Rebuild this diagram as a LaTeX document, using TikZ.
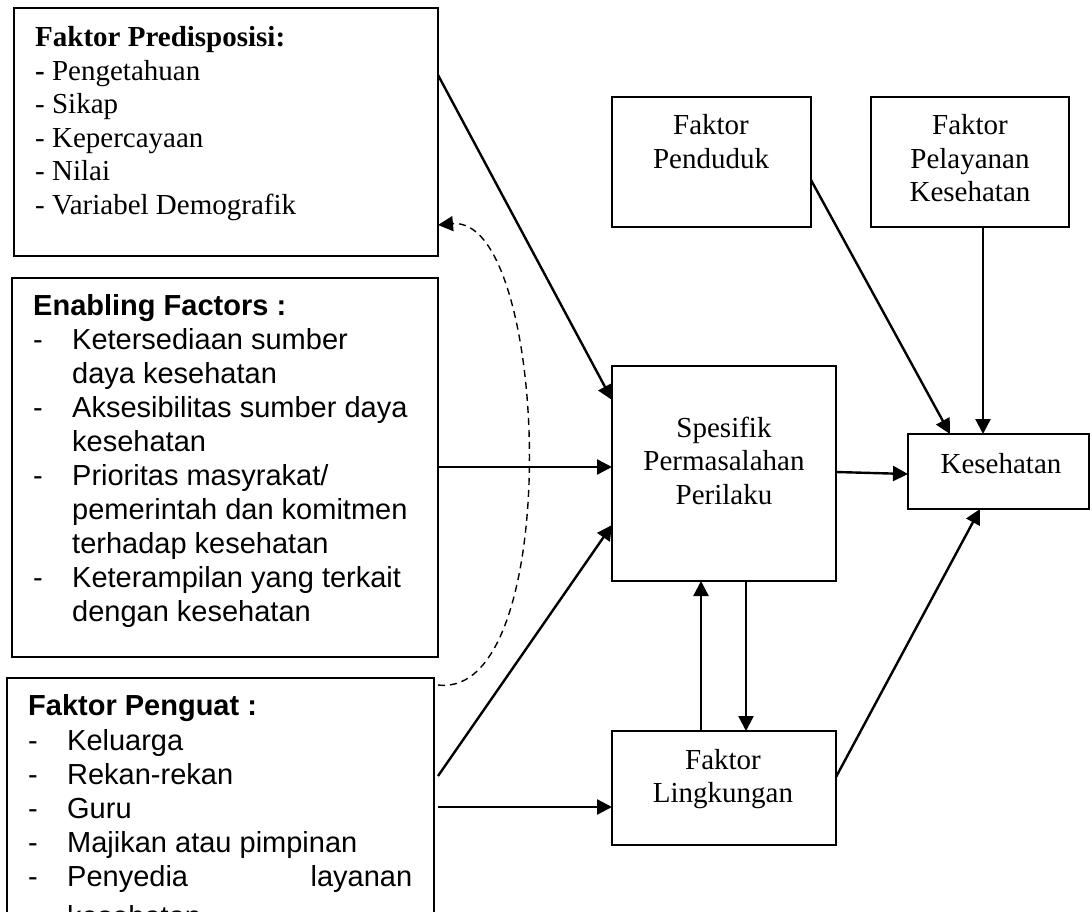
\documentclass[tikz,border=0pt]{standalone}
\usepackage{fontspec}
\setmainfont{Liberation Serif}
\newfontfamily\arialf{Liberation Sans}
\usetikzlibrary{arrows.meta}
\begin{document}
\begin{tikzpicture}[x=1pt,y=-1pt,
  box/.style={draw, line width=1.8pt, inner sep=0pt, outer sep=0pt},
  tms/.style={inner sep=0pt, font=\fontsize{29}{33.5}\selectfont},
  ari/.style={inner sep=0pt, font=\arialf\fontsize{29}{34}\selectfont},
  arr/.style={line width=2.4pt, -{Triangle[length=15pt,width=15pt]}},
  dsh/.style={line width=1.4pt, dash pattern=on 7pt off 5pt, -{Triangle[length=15pt,width=15pt]}}]
\useasboundingbox (0,0) rectangle (1092,912);
\clip (0,0) rectangle (1092,912);
% boxes
\node[box, minimum width=424pt, minimum height=248pt] (A) at (226,132) {};
\node[box, minimum width=426pt, minimum height=379pt] (B) at (225,467.5) {};
\node[box, minimum width=427pt, minimum height=272pt] (C) at (220.5,814) {};
\node[box, minimum width=199pt, minimum height=130pt] (P) at (711.5,162) {};
\node[box, minimum width=198pt, minimum height=130pt] (L) at (970,162) {};
\node[box, minimum width=224pt, minimum height=215pt] (S) at (724,473.5) {};
\node[box, minimum width=181pt, minimum height=75pt] (K) at (998.5,471.5) {};
\node[box, minimum width=224pt, minimum height=114pt] (G) at (724,788) {};
% texts
\node[tms, anchor=base west] (tA) at (35,47) {\begin{tabular}[t]{@{}l@{}}
\textbf{Faktor Predisposisi:}\\
\textbf{-} Pengetahuan\\
- Sikap\\
- Kepercayaan\\
- Nilai\\
- Variabel Demografik
\end{tabular}};
\node[ari, anchor=base west] (tB) at (33,315) {\begin{tabular}[t]{@{}p{39pt}@{}l@{}}
\multicolumn{2}{@{}l@{}}{\textbf{Enabling Factors :}}\\
- & Ketersediaan sumber\\
  & daya kesehatan\\
- & Aksesibilitas sumber daya\\
  & kesehatan\\
- & Prioritas masyrakat/\\
  & pemerintah dan komitmen\\
  & terhadap kesehatan\\
- & Keterampilan yang terkait\\
  & dengan kesehatan
\end{tabular}};
\node[ari, anchor=base west] (tC) at (28,715) {\begin{tabular}[t]{@{}p{39pt}@{}l@{}}
\multicolumn{2}{@{}l@{}}{\textbf{Faktor Penguat :}}\\[1pt]
- & Keluarga\\
- & Rekan-rekan\\
- & Guru\\
- & Majikan atau pimpinan\\
- & \makebox[345pt][s]{Penyedia\hfill layanan}\\[6pt]
  & kesehatan
\end{tabular}};
\node[tms, anchor=base] (tP) at (711,135) {\begin{tabular}[t]{@{}c@{}}Faktor\\Penduduk\end{tabular}};
\node[tms, anchor=base] (tL) at (970,135) {\begin{tabular}[t]{@{}c@{}}Faktor\\Pelayanan\\Kesehatan\end{tabular}};
\node[tms, anchor=base] (tS) at (724,437) {\begin{tabular}[t]{@{}c@{}}Spesifik\\Permasalahan\\Perilaku\end{tabular}};
\node[tms, anchor=base] (tK) at (1001,473) {Kesehatan};
\node[tms, anchor=base] (tG) at (723,769) {\begin{tabular}[t]{@{}c@{}}Faktor\\Lingkungan\end{tabular}};
% connectors
\draw[arr] (A.east |- 0,75) -- (S.west |- 0,400);
\draw[dsh] ([xshift=4pt]C.east |- 0,685) .. controls (565,700) and (550,215) .. (A.east |- 0,225);
\draw[arr] (B.east |- 0,467) -- (S.west |- 0,467);
\draw[arr] ([xshift=4pt]C.east |- 0,776) -- (S.west |- 0,525);
\draw[arr] ([xshift=4pt]C.east |- 0,807) -- (G.west |- 0,807);
\draw[arr] (S.east |- 0,472) -- (K.west |- 0,474);
\draw[arr] (P.east |- 0,180) -- (K.north -| 950,0);
\draw[arr] (L.south -| 983,0) -- (K.north -| 983,0);
\draw[arr] (G.north -| 701,0) -- (S.south -| 701,0);
\draw[arr] (S.south -| 746,0) -- (G.north -| 746,0);
\draw[arr] (G.east |- 0,777) -- (K.south -| 980,0);
\end{tikzpicture}
\end{document}
